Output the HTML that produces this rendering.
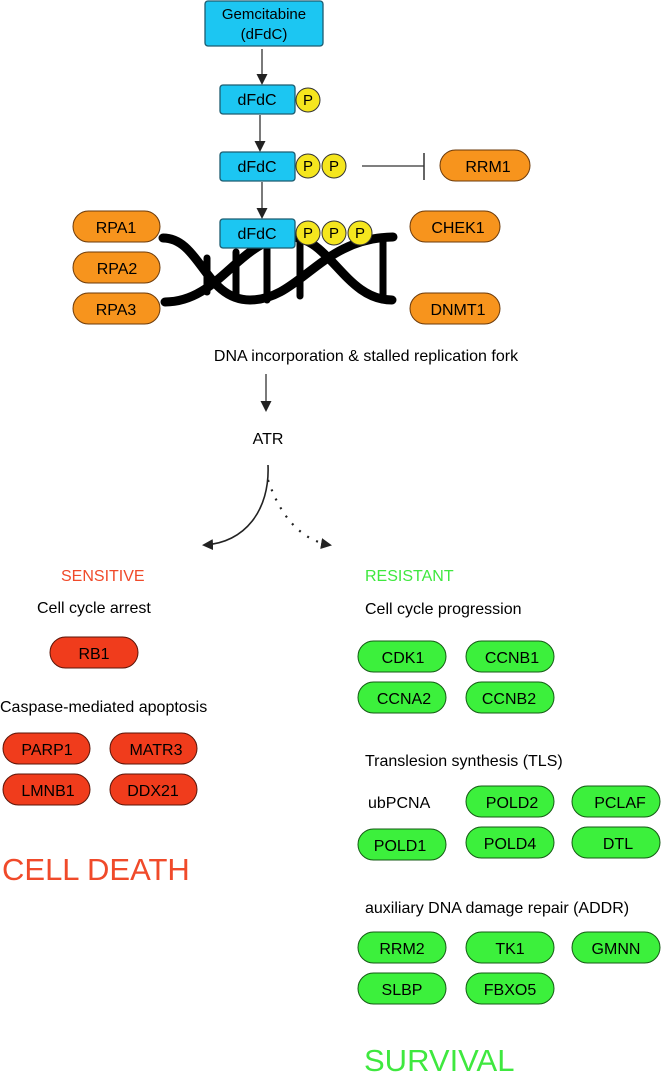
<!DOCTYPE html>
<html><head><meta charset="utf-8"><style>
body{margin:0;background:#fff;}
svg text{font-family:"Liberation Sans",sans-serif;}
</style></head><body>
<svg width="667" height="1075" viewBox="0 0 667 1075" xmlns="http://www.w3.org/2000/svg">
<defs>
<marker id="ah" markerWidth="11" markerHeight="11" refX="9" refY="5.5" orient="auto" markerUnits="userSpaceOnUse"><path d="M0,0 L11,5.5 L0,11 z" fill="#222"/></marker>
</defs>
<g font-size="15" text-anchor="middle">
<rect x="205" y="1" width="118" height="45" rx="3" fill="#1cc6f2" stroke="#1d5c70" stroke-width="1.3"/>
<text x="264" y="19">Gemcitabine</text><text x="264" y="39">(dFdC)</text>
<line x1="262" y1="49" x2="262" y2="83" stroke="#333" stroke-width="1.3" marker-end="url(#ah)"/>
<rect x="220" y="85" width="75" height="29" rx="3" fill="#1cc6f2" stroke="#1d5c70" stroke-width="1.3"/>
<text x="257" y="105" font-size="16">dFdC</text>
<circle cx="308" cy="100" r="12" fill="#f5e61e" stroke="#333"/><text x="308" y="105">P</text>
<line x1="260" y1="115" x2="260" y2="150" stroke="#333" stroke-width="1.3" marker-end="url(#ah)"/>
<rect x="220" y="152" width="75" height="29" rx="3" fill="#1cc6f2" stroke="#1d5c70" stroke-width="1.3"/>
<text x="257" y="172" font-size="16">dFdC</text>
<circle cx="308" cy="166" r="12" fill="#f5e61e" stroke="#333"/><text x="308" y="171">P</text>
<circle cx="334" cy="166" r="12" fill="#f5e61e" stroke="#333"/><text x="334" y="171">P</text>
<line x1="362" y1="166" x2="424" y2="166" stroke="#333" stroke-width="1.3"/>
<line x1="424" y1="153" x2="424" y2="180" stroke="#333" stroke-width="1.5"/>
<rect x="440" y="150" width="90" height="31" rx="15.5" fill="#f7941d" stroke="#6b3a0a"/><text x="488" y="172" font-size="16">RRM1</text>
<line x1="262" y1="182" x2="262" y2="217" stroke="#333" stroke-width="1.3" marker-end="url(#ah)"/>
<g stroke="#000" fill="none" stroke-linecap="round">
<path d="M163,238 C200,238 205,300 250,300 C300,300 320,238 393,237" stroke-width="9"/>
<path d="M165,302 C220,302 240,237 290,237 C330,237 345,300 392,300" stroke-width="9"/>
<line x1="207" y1="258" x2="207" y2="292" stroke-width="7"/>
<line x1="236" y1="252" x2="236" y2="298" stroke-width="7"/>
<line x1="267" y1="240" x2="267" y2="300" stroke-width="7"/>
<line x1="300" y1="242" x2="300" y2="296" stroke-width="7"/>
<line x1="383" y1="237" x2="383" y2="300" stroke-width="7"/>
</g>
<rect x="220" y="219" width="75" height="29" rx="3" fill="#1cc6f2" stroke="#1d5c70" stroke-width="1.3"/>
<text x="257" y="239" font-size="16">dFdC</text>
<circle cx="308" cy="233" r="12" fill="#f5e61e" stroke="#333"/><text x="308" y="238">P</text>
<circle cx="334" cy="233" r="12" fill="#f5e61e" stroke="#333"/><text x="334" y="238">P</text>
<circle cx="360" cy="233" r="12" fill="#f5e61e" stroke="#333"/><text x="360" y="238">P</text>
<g fill="#f7941d" stroke="#6b3a0a">
<rect x="73" y="211" width="87" height="31" rx="15.5"/>
<rect x="73" y="252" width="87" height="31" rx="15.5"/>
<rect x="73" y="293" width="87" height="31" rx="15.5"/>
<rect x="410" y="211" width="90" height="31" rx="15.5"/>
<rect x="410" y="293" width="90" height="31" rx="15.5"/>
</g>
<g font-size="16">
<text x="116" y="233">RPA1</text><text x="117" y="274">RPA2</text><text x="116" y="315">RPA3</text>
<text x="458" y="233">CHEK1</text><text x="458" y="315">DNMT1</text>
<text x="366" y="361">DNA incorporation &amp; stalled replication fork</text>
<text x="268" y="444">ATR</text>
</g>
<line x1="266" y1="374" x2="266" y2="410" stroke="#333" stroke-width="1.3" marker-end="url(#ah)"/>
<path d="M268,465 C270,510 245,543 204,545" stroke="#222" stroke-width="1.6" fill="none" marker-end="url(#ah)"/>
<path d="M268,480 C280,515 300,540 330,545" stroke="#222" stroke-width="2.2" fill="none" stroke-dasharray="2,8" marker-end="url(#ah)"/>
</g>
<g font-size="16">
<text x="61" y="581" fill="#f04a2a">SENSITIVE</text>
<text x="365" y="581" fill="#3fe83f">RESISTANT</text>
<text x="37" y="613">Cell cycle arrest</text>
<text x="0" y="712">Caspase-mediated apoptosis</text>
<text x="2" y="880" font-size="31" fill="#f04a2a">CELL DEATH</text>
<text x="365" y="614">Cell cycle progression</text>
<text x="365" y="766">Translesion synthesis (TLS)</text>
<text x="368" y="808">ubPCNA</text>
<text x="365" y="913">auxiliary DNA damage repair (ADDR)</text>
<text x="364" y="1071" font-size="31" fill="#3fe83f">SURVIVAL</text>
</g>
<g fill="#f03c1c" stroke="#5a1408">
<rect x="50" y="637" width="88" height="31" rx="15.5"/>
<rect x="3" y="733" width="87" height="31" rx="15.5"/>
<rect x="110" y="733" width="87" height="31" rx="15.5"/>
<rect x="3" y="774" width="87" height="31" rx="15.5"/>
<rect x="110" y="774" width="87" height="31" rx="15.5"/>
</g>
<g fill="#3cf03c" stroke="#145a14">
<rect x="358" y="641" width="88" height="31" rx="15.5"/>
<rect x="466" y="641" width="88" height="31" rx="15.5"/>
<rect x="358" y="682" width="88" height="31" rx="15.5"/>
<rect x="466" y="682" width="88" height="31" rx="15.5"/>
<rect x="466" y="786" width="88" height="31" rx="15.5"/>
<rect x="572" y="786" width="88" height="31" rx="15.5"/>
<rect x="358" y="829" width="88" height="31" rx="15.5"/>
<rect x="466" y="827" width="88" height="31" rx="15.5"/>
<rect x="572" y="827" width="88" height="31" rx="15.5"/>
<rect x="358" y="932" width="88" height="31" rx="15.5"/>
<rect x="466" y="932" width="88" height="31" rx="15.5"/>
<rect x="572" y="932" width="88" height="31" rx="15.5"/>
<rect x="358" y="973" width="88" height="31" rx="15.5"/>
<rect x="466" y="973" width="88" height="31" rx="15.5"/>
</g>
<g font-size="16" text-anchor="middle">
<text x="94" y="659">RB1</text>
<text x="47" y="755">PARP1</text><text x="156" y="755">MATR3</text>
<text x="48" y="796">LMNB1</text><text x="153" y="796">DDX21</text>
<text x="403" y="663">CDK1</text><text x="512" y="663">CCNB1</text>
<text x="404" y="704">CCNA2</text><text x="509" y="704">CCNB2</text>
<text x="512" y="808">POLD2</text><text x="620" y="808">PCLAF</text>
<text x="400" y="851">POLD1</text><text x="510" y="849">POLD4</text><text x="618" y="849">DTL</text>
<text x="402" y="954">RRM2</text><text x="510" y="954">TK1</text><text x="616" y="954">GMNN</text>
<text x="402" y="995">SLBP</text><text x="510" y="995">FBXO5</text>
</g>
</svg>
</body></html>
